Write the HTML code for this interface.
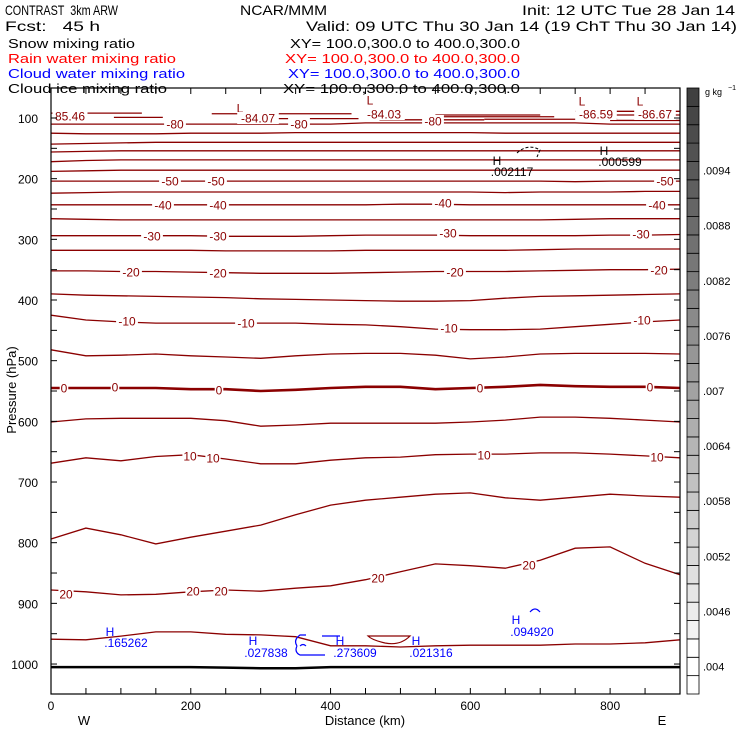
<!DOCTYPE html>
<html><head><meta charset="utf-8"><style>
html,body{margin:0;padding:0;background:#fff;}
svg{display:block;font-family:"Liberation Sans",sans-serif;}
text{white-space:pre;}
</style></head><body>
<svg id="chart" width="740" height="740" viewBox="0 0 740 740" xmlns="http://www.w3.org/2000/svg" xml:space="preserve">
<g font-size="14" fill="#000">
<text x="5" y="15" textLength="113" lengthAdjust="spacingAndGlyphs">CONTRAST  3km ARW</text>
<text x="240" y="15" textLength="87" lengthAdjust="spacingAndGlyphs">NCAR/MMM</text>
<text x="522" y="15" textLength="213" lengthAdjust="spacingAndGlyphs">Init: 12 UTC Tue 28 Jan 14</text>
<text x="5" y="31" textLength="95" lengthAdjust="spacingAndGlyphs">Fcst:   45 h</text>
<text x="306" y="31" textLength="431" lengthAdjust="spacingAndGlyphs">Valid: 09 UTC Thu 30 Jan 14 (19 ChT Thu 30 Jan 14)</text>
</g>
<g font-size="13">
<text x="8" y="48" textLength="127" lengthAdjust="spacingAndGlyphs">Snow mixing ratio</text>
<text x="290" y="48" textLength="230" lengthAdjust="spacingAndGlyphs">XY= 100.0,300.0 to 400.0,300.0</text>
<text x="8" y="63" fill="#ff0000" textLength="168" lengthAdjust="spacingAndGlyphs">Rain water mixing ratio</text>
<text x="285" y="63" fill="#ff0000" textLength="235" lengthAdjust="spacingAndGlyphs">XY= 100.0,300.0 to 400.0,300.0</text>
<text x="8" y="78" fill="#0000ff" textLength="177" lengthAdjust="spacingAndGlyphs">Cloud water mixing ratio</text>
<text x="288" y="78" fill="#0000ff" textLength="232" lengthAdjust="spacingAndGlyphs">XY= 100.0,300.0 to 400.0,300.0</text>
<text x="8" y="93" textLength="159" lengthAdjust="spacingAndGlyphs">Cloud ice mixing ratio</text>
<text x="283" y="93" textLength="237" lengthAdjust="spacingAndGlyphs">XY= 100.0,300.0 to 400.0,300.0</text>
</g>
<g id="plot"></g>
</svg>
<script>
const distances=[0,50,100,150,200,250,300,350,400,450,500,550,600,650,700,750,800,850,900];
const contourLevels=[-80,-75,-70,-65,-60,-55,-50,-45,-40,-35,-30,-25,-20,-15,-10,-5,0,5,10,15,20,25];
const cM80=[110,110,110,110,110,110,110,110,110,108,108,108,108,108,108,108,110,110,110];
const cM75=[125,126,126,126,125,125,125,124,124,124,124,124,124,125,125,125,125,125,125];
const cM70=[143,142,141,140,140,140,140,140,140,140,140,140,140,140,140,140,140,140,140];
const cM65=[156,155,154,154,154,154,154,154,154,154,154,154,154,154,154,154,154,154,154];
const cM60=[172,170,169,169,169,169,169,169,169,169,169,169,169,169,169,169,169,169,169];
const cM55=[188,187,186,186,186,186,186,186,186,186,186,186,186,186,186,186,186,186,186];
const cM50=[204,204,204,204,204,204,204,204,204,204,204,204,204,204,204,205,204,204,204];
const cM45=[224,223,222,222,222,222,222,222,222,222,222,222,222,223,222,222,222,221,221];
const cM40=[243,243,243,243,243,243,243,243,243,243,242,242,243,243,243,243,243,243,243];
const cM35=[266,267,268,268,268,268,268,268,268,268,268,268,268,268,268,267,266,266,266];
const cM30=[294,294,294,294,294,295,295,295,294,293,293,293,294,294,294,294,293,293,292];
const cM25=[318,318,318,318,318,319,319,319,319,318,318,318,318,318,317,316,316,316,316];
const cM20=[352,352,353,353,354,355,356,356,356,355,354,353,353,353,352,351,350,350,349];
const cM15=[390,392,393,394,395,396,398,399,400,401,402,402,401,397,394,393,392,391,390];
const cM10=[425,433,436,438,438,438,438,438,440,441,444,448,449,449,448,444,440,436,433];
const cM5=[482,492,491,489,492,494,496,492,489,488,488,491,497,494,489,488,488,488,489];
const c0=[545,545,545,545,547,547,550,548,545,543,543,547,545,543,540,542,543,543,545];
const c5=[601,596,595,595,595,599,608,606,603,603,603,603,601,598,593,593,595,598,601];
const c10=[669,660,665,658,655,662,670,670,664,660,659,655,654,654,652,652,654,657,660];
const c15=[794,776,787,802,791,781,771,754,738,730,725,720,718,726,730,725,720,723,725];
const c20=[878,881,886,885,881,878,880,875,871,861,848,835,838,842,829,809,807,834,853];
const c25=[959,960,954,947,947,951,952,955,970,970,972,970,969,969,969,967,967,965,960];
const terrain=[1005,1005,1005,1005,1005,1006,1007,1007,1005,1005,1005,1005,1005,1005,1005,1005,1005,1005,1005];
const contours=[cM80,cM75,cM70,cM65,cM60,cM55,cM50,cM45,cM40,cM35,cM30,cM25,cM20,cM15,cM10,cM5,c0,c5,c10,c15,c20,c25];
const barValues=[".004",".0046",".0052",".0058",".0064",".007",".0076",".0082",".0088",".0094"];
const xTicks=[0,200,400,600,800];
const yTicks=[100,200,300,400,500,600,700,800,900,1000];

const X0=51,X1=680,Y0=88,Y1=694;
const x=d=>X0+(d/900)*(X1-X0);
const y=p=>118+(p-100)*0.6067;
const NS="http://www.w3.org/2000/svg";
const plot=document.getElementById('plot');
function mk(tag,attrs,parent){const e=document.createElementNS(NS,tag);for(const k in attrs)e.setAttribute(k,attrs[k]);(parent||plot).appendChild(e);return e;}
const RED="#8b0000";

contours.forEach((arr,i)=>{
  const pts=arr.map((p,j)=>x(distances[j]).toFixed(1)+","+y(p).toFixed(1)).join(" ");
  const pl=mk('polyline',{points:pts,fill:'none',stroke:RED,'stroke-width':contourLevels[i]===0?2.6:1.3});
  
  
});
const topSegs=[[0,130,92],[90,160,99],[230,430,93],[270,440,101],[470,620,103],[550,700,95],[560,720,98],[620,810,102],[790,900,95],[800,900,104],[750,900,89]];
topSegs.forEach(s=>{
  const l=mk('line',{x1:x(s[0]),x2:x(s[1]),y1:y(s[2]),y2:y(s[2]),stroke:RED,'stroke-width':1.3});
  
  
});
const tl=mk('polyline',{points:terrain.map((p,j)=>x(distances[j])+","+y(p)).join(" "),fill:'none',stroke:'#000','stroke-width':2.5});



const labels=[[70,116,"85.46"],[175,124,"-80"],[240,108,"L"],[258,118,"-84.07"],[299,124,"-80"],[370,100,"L"],[384,114,"-84.03"],[433,121,"-80"],[582,101,"L"],[596,114,"-86.59"],[640,101,"L"],[655,114,"-86.67"],
[170,181,"-50"],[216,181,"-50"],[665,181,"-50"],[163,205,"-40"],[218,205,"-40"],[443,203,"-40"],[657,205,"-40"],
[152,236,"-30"],[218,236,"-30"],[448,233,"-30"],[641,234,"-30"],[131,272,"-20"],[218,273,"-20"],[455,272,"-20"],[659,270,"-20"],
[127,321,"-10"],[246,323,"-10"],[449,328,"-10"],[642,320,"-10"],[64,388,"0"],[115,387,"0"],[219,390,"0"],[480,388,"0"],[650,387,"0"],
[190,456,"10"],[213,458,"10"],[484,455,"10"],[657,457,"10"],[66,594,"20"],[193,591,"20"],[221,591,"20"],[378,578,"20"],[529,565,"20"]];
labels.forEach(l=>{
  if(l[2]!=="L"){const w=l[2].length*6.6;mk('rect',{x:l[0]-w/2-1,y:l[1]-6,width:w+2,height:12,fill:'#fff'});}
  const t=mk('text',{x:l[0],y:l[1]+4.5,'text-anchor':'middle','font-size':12,fill:RED});
  t.textContent=l[2];
  
  
});
const loop=mk('path',{d:"M368,636 L410,636 Q400,646 385,643 Q372,640 368,636 Z",fill:'none',stroke:RED,'stroke-width':1.2});



const blue=[[110,631,"H"],[126,642,".165262"],[253,640,"H"],[266,652,".027838"],[340,640,"H"],[355,652,".273609"],[416,640,"H"],[431,652,".021316"],[516,619,"H"],[532,631,".094920"]];
blue.forEach(b=>{const t=mk('text',{x:b[0],y:b[1]+5,'text-anchor':'middle','font-size':12,fill:'#0000ff'});t.textContent=b[2];

});
const bl=mk('path',{d:"M322,636 L340,636 M297,646 Q293,640 300,635 L306,635 M297,646 Q294,652 300,655 L325,655 M300,646 Q303,643 306,646 M530,612 Q535,606 540,612",fill:'none',stroke:'#0000ff','stroke-width':1.2});


const blk=[[497,160,"H"],[512,171,".002117"],[604,150,"H"],[620,161,".000599"]];
blk.forEach(b=>{const t=mk('text',{x:b[0],y:b[1]+5,'text-anchor':'middle','font-size':12,fill:'#000'});t.textContent=b[2];

});
const ia=mk('path',{d:"M517,153 Q528,143 540,150 L537,157",fill:'none',stroke:'#000','stroke-width':1,'stroke-dasharray':'3,2'});



const fr=mk('rect',{x:X0,y:Y0,width:X1-X0,height:Y1-Y0,fill:'none',stroke:'#000','stroke-width':1.2});


for(let p=50;p<=1050;p+=50){const yy=y(p);if(yy<Y0+1||yy>Y1-1)continue;
 mk('line',{x1:X0,x2:X0+6,y1:yy,y2:yy,stroke:'#000'});mk('line',{x1:X1-6,x2:X1,y1:yy,y2:yy,stroke:'#000'});}
for(let d=50;d<900;d+=50){const xx=x(d);
 mk('line',{x1:xx,x2:xx,y1:Y1,y2:Y1-6,stroke:'#000'});mk('line',{x1:xx,x2:xx,y1:Y0,y2:Y0+6,stroke:'#000'});}
yTicks.forEach(p=>{const t=mk('text',{x:38,y:y(p)+5,'text-anchor':'end','font-size':12});t.textContent=p;

});
xTicks.forEach(d=>{const t=mk('text',{x:x(d),y:710,'text-anchor':'middle','font-size':12});t.textContent=d;

});
let t=mk('text',{x:365,y:725,'text-anchor':'middle','font-size':13});t.textContent="Distance (km)";


t=mk('text',{x:84,y:725,'text-anchor':'middle','font-size':13});t.textContent="W";


t=mk('text',{x:662,y:725,'text-anchor':'middle','font-size':13});t.textContent="E";


t=mk('text',{x:16,y:390,'text-anchor':'middle','font-size':13,transform:'rotate(-90 16 390)'});t.textContent="Pressure (hPa)";



const nb=33,bh=(Y1-Y0)/nb;
for(let i=0;i<nb;i++){
 const g=i<3?255:Math.round(242-(i-3)*(178/29));
 const r=mk('rect',{x:687,y:Y1-(i+1)*bh,width:12,height:bh,fill:`rgb(${g},${g},${g})`,stroke:'#000','stroke-width':0.8});
 
 
}
barValues.forEach((v,k)=>{const yy=Y1-(1.5+3*k)*bh;const tt=mk('text',{x:703,y:yy+4,'font-size':11});tt.textContent=v;

});
t=mk('text',{x:705,y:95,'font-size':9});t.textContent="g kg";


t=mk('text',{x:728,y:90,'font-size':7});t.textContent="−1";


</script>
</body></html>
